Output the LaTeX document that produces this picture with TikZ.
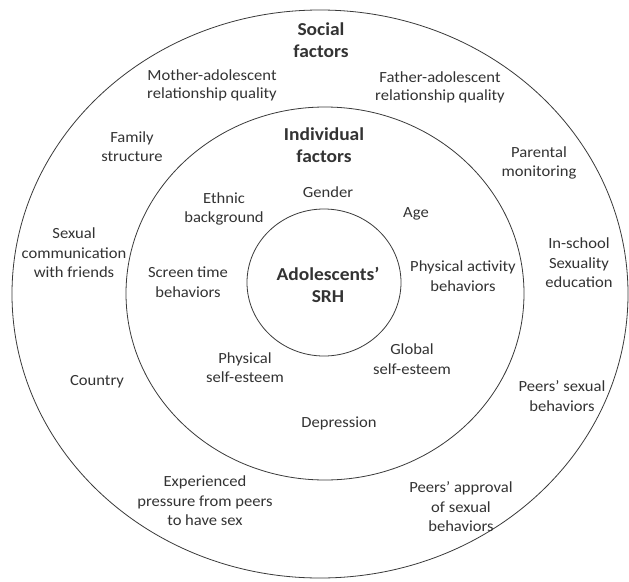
\documentclass[tikz,border=0pt]{standalone}
\usepackage{fontspec}
\usetikzlibrary{shapes.geometric}
\setmainfont{Carlito}[FakeStretch=1.07]
\definecolor{linegray}{HTML}{3A3A3A}
\definecolor{textgray}{HTML}{333333}
\begin{document}
\begin{tikzpicture}[x=1pt,y=-1pt,
  ring/.style={draw=linegray, line width=0.8pt, ellipse, inner sep=0pt},
  lbl/.style={text=textgray, align=center, inner sep=0pt, font=\fontsize{15.5}{19.5}\selectfont},
  lbltight/.style={lbl, font=\fontsize{15.5}{17.5}\selectfont},
  ttl/.style={text=textgray, align=center, inner sep=0pt, font=\fontsize{18.2}{22.5}\selectfont\bfseries},
]
\path[fill=white] (0,0) rectangle (629,581);
\useasboundingbox (0,0) rectangle (629,581);

% rings
\node[ring, minimum width=616pt, minimum height=568pt] (outer) at (320,294) {};
\node[ring, minimum width=398pt, minimum height=373pt] (middle) at (325,293.5) {};
\node[ring, minimum width=154pt, minimum height=147pt] (inner) at (324,282.5) {};

% titles
\node[ttl] (social) at (321,40) {Social\\factors};
\node[ttl] (indiv) at (324,145) {Individual\\factors};
\node[ttl] (srh) at (328,285) {Adolescents’\\SRH};

% social factors
\node[lbltight] (mother) at (212,85.5) {Mother-adolescent\\relationship quality};
\node[lbltight] (father) at (440,87.5) {Father-adolescent\\relationship quality};
\node[lbl] (family) at (132,146.5) {Family\\structure};
\node[lbl] (parental) at (539,163) {Parental\\monitoring};
\node[lbl] (sexcomm) at (74,253) {Sexual\\communication\\with friends};
\node[lbl] (inschool) at (579,263) {In-school\\Sexuality\\education};
\node[lbl] (country) at (97,382) {Country};
\node[lbl] (peerssex) at (562,396) {Peers’ sexual\\behaviors};
\node[lbl] (pressure) at (205,501) {Experienced\\pressure from peers\\to have sex};
\node[lbl] (approval) at (461,507) {Peers’ approval\\of sexual\\behaviors};

% individual factors
\node[lbl] (gender) at (328,192) {Gender};
\node[lbl] (ethnic) at (224,209) {Ethnic\\background};
\node[lbl] (age) at (416,214) {Age};
\node[lbl] (screen) at (188,282) {Screen time\\behaviors};
\node[lbl] (physact) at (463,276) {Physical activity\\behaviors};
\node[lbl] (physself) at (245,367.5) {Physical\\self-esteem};
\node[lbl] (global) at (412,359) {Global\\self-esteem};
\node[lbl] (depress) at (339,423) {Depression};
\end{tikzpicture}
\end{document}
